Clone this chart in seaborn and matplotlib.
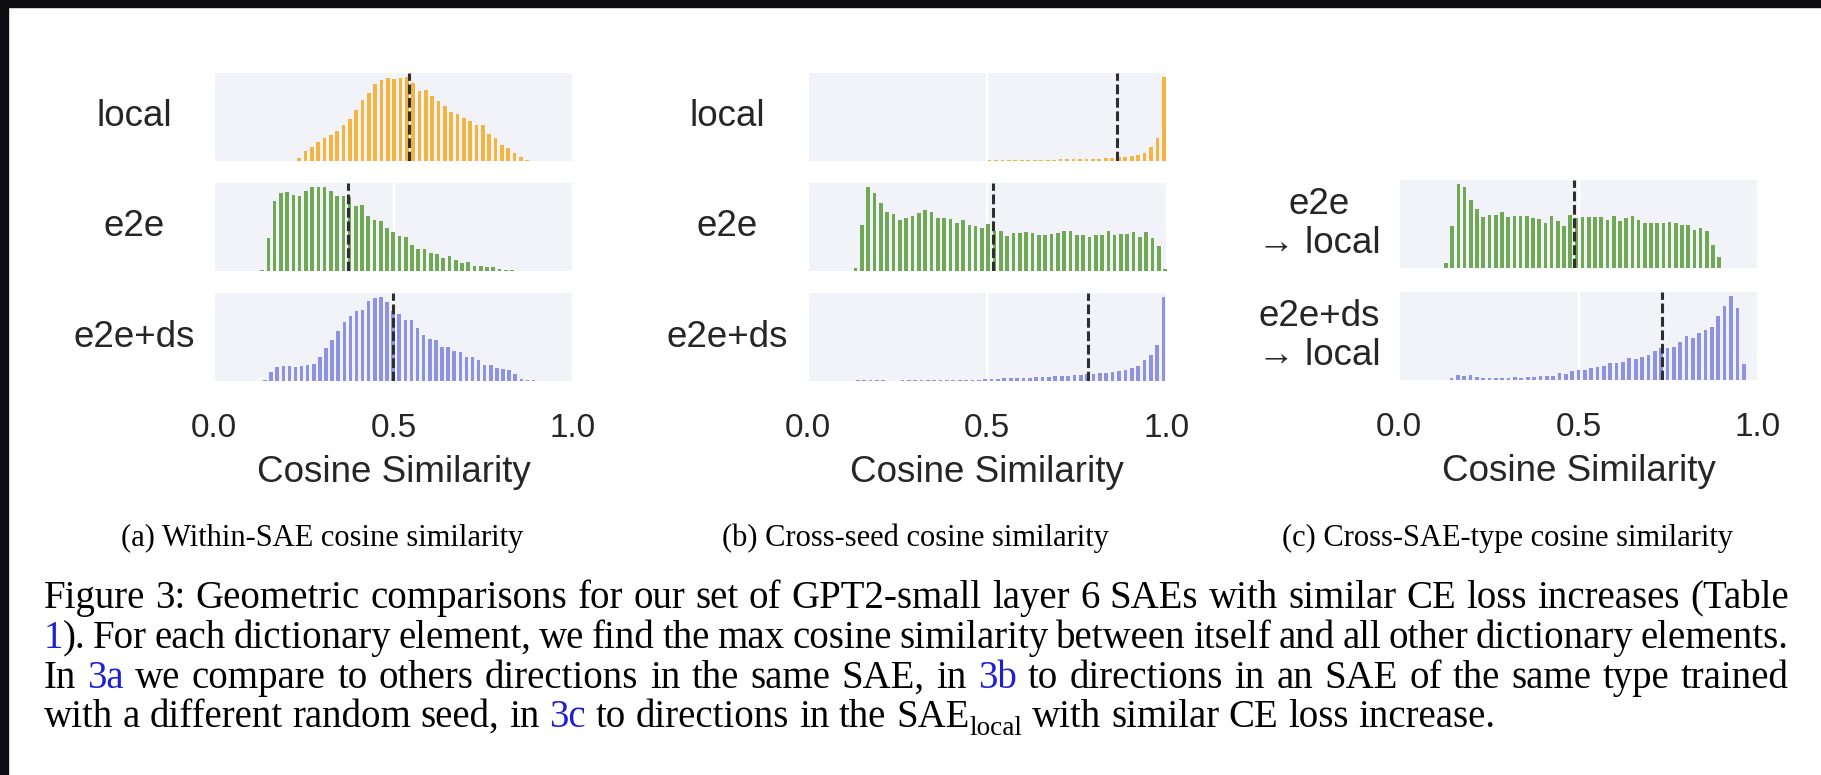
import re
import numpy as np
import pandas as pd
import matplotlib.pyplot as plt
import seaborn as sns
from matplotlib.patches import Rectangle

# ---- data ---------------------------------------------------------------
# bar heights in arbitrary units (tallest bar of each row ~250);
# each histogram has the centre of its first bin and its bin width
a_local_x0, a_local_bw = 0.237, 0.01764
a_local = [10, 30, 42, 57, 68, 78, 90, 108, 128, 154, 184, 205, 232, 245, 250, 248,
           251, 253, 235, 210, 215, 195, 180, 165, 148, 143, 130, 120, 108, 108, 82,
           68, 48, 38, 25, 12, 4]
a_e2e_x0, a_e2e_bw = 0.134, 0.0174
a_e2e = [2, 98, 208, 233, 235, 228, 223, 240, 250, 250, 250, 240, 225, 223, 221, 193,
         196, 165, 153, 148, 128, 115, 105, 101, 78, 65, 65, 55, 50, 38, 45, 33, 23,
         26, 15, 15, 13, 11, 5, 2, 2]
a_e2eds_x0, a_e2eds_bw = 0.142, 0.017
a_e2eds = [3, 28, 43, 45, 45, 43, 46, 47, 50, 72, 100, 125, 150, 178, 195, 210, 215,
           240, 250, 253, 238, 210, 201, 185, 183, 161, 138, 128, 125, 103, 103, 91,
           88, 73, 71, 62, 48, 47, 40, 36, 33, 21, 7, 4, 2]

b_local_x0, b_local_bw = 0.507, 0.018
b_local = [2, 2, 2, 2, 3, 3, 3, 3, 4, 4, 4, 5, 5, 5, 6, 6, 7, 7, 8, 9, 12, 12, 15, 18,
           25, 43, 70, 253]
b_e2e_x0, b_e2e_bw = 0.134, 0.0176
b_e2e = [10, 138, 251, 235, 205, 176, 171, 153, 160, 165, 175, 183, 176, 158, 158,
         156, 143, 153, 138, 136, 128, 141, 121, 120, 106, 113, 115, 116, 113, 108,
         108, 111, 113, 121, 121, 108, 108, 103, 108, 108, 120, 108, 110, 111, 118,
         103, 116, 100, 75, 5]
b_e2eds_x0, b_e2eds_bw = 0.14, 0.01775
b_e2eds = [2, 2, 2, 2, 2, 0, 0, 2, 2, 2, 2, 2, 2, 3, 3, 3, 3, 4, 4, 4, 5, 7, 7, 8, 8,
           9, 9, 10, 12, 12, 13, 14, 15, 16, 17, 17, 20, 22, 23, 25, 28, 30, 32, 38,
           45, 62, 78, 110, 253]

c_e2e_x0, c_e2e_bw = 0.131, 0.0173
c_e2e = [15, 130, 257, 247, 210, 180, 155, 162, 162, 173, 157, 160, 160, 158, 153,
         150, 137, 160, 145, 130, 162, 153, 155, 155, 155, 155, 148, 160, 143, 153,
         160, 148, 138, 137, 137, 137, 142, 137, 133, 133, 117, 122, 112, 70, 35]
c_e2eds_x0, c_e2eds_bw = 0.146, 0.0177
c_e2eds = [5, 16, 13, 14, 8, 5, 5, 6, 6, 6, 8, 6, 8, 10, 11, 13, 13, 23, 18, 28, 30,
           30, 36, 41, 43, 53, 53, 56, 68, 66, 71, 78, 88, 100, 98, 103, 118, 135,
           128, 145, 153, 163, 198, 228, 258, 223, 48]

# dashed lines (mean cosine similarity)
a_means = [0.543, 0.373, 0.499]
b_means = [0.862, 0.517, 0.782]
c_means = [0.487, 0.733]

row_names = ['local', 'e2e', 'e2e+ds']
c_row_names = ['e2e\n\u2192 local', 'e2e+ds\n\u2192 local']
x_ticks = [0.0, 0.5, 1.0]
x_tick_labels = ['0.0', '0.5', '1.0']
sub_captions = ['(a) Within-SAE cosine similarity',
                '(b) Cross-seed cosine similarity',
                '(c) Cross-SAE-type cosine similarity']
caption = [
    'Figure 3: Geometric comparisons for our set of GPT2-small layer 6 SAEs with similar CE loss increases (Table',
    '[1]). For each dictionary element, we find the max cosine similarity between itself and all other dictionary elements.',
    'In [3a] we compare to others directions in the same SAE, in [3b] to directions in an SAE of the same type trained',
    'with a different random seed, in [3c] to directions in the SAE_{local} with similar CE loss increase.',
]

# ---- style -------------------------------------------------------------
W, H = 1821, 775
ORANGE, GREEN, PURPLE = '#F2B540', '#70A855', '#8D92E2'
row_colors = [ORANGE, GREEN, PURPLE]
TXT = '#262626'
LINK = '#1f1fd6'
sans = ['Liberation Sans', 'DejaVu Sans']
serif = ['Liberation Serif', 'DejaVu Serif']

sns.set_theme(style='darkgrid', rc={'axes.facecolor': '#F2F3F8',
                                    'grid.color': 'white',
                                    'grid.linewidth': 1.6})
plt.rcParams['font.family'] = sans

fig = plt.figure(figsize=(W / 100, H / 100), dpi=100)
fig.patch.set_facecolor('white')


def px_axes(left, top, width, height):
    return fig.add_axes([left / W, 1 - (top + height) / H, width / W, height / H])


def draw_hist(ax, x0, bw, counts, color, mean):
    df = pd.DataFrame({'cos': x0 + bw * np.arange(len(counts)),
                       'n': np.asarray(counts, dtype=float)})
    edges = list(np.append(df['cos'] - bw / 2, df['cos'].iloc[-1] + bw / 2))
    sns.histplot(data=df, x='cos', weights='n', bins=edges, ax=ax, color=color,
                 shrink=0.58, linewidth=0, alpha=1)
    ax.axvline(mean, color='#2e2e2e', lw=2.2, ls=(0, (3.2, 1.2)), zorder=3)


panel_left = [214, 807.5, 1399]
panel_w = 359
row_tops = [73, 183, 293]
row_h = 88

panels = [
    [(a_local_x0, a_local_bw, a_local), (a_e2e_x0, a_e2e_bw, a_e2e),
     (a_e2eds_x0, a_e2eds_bw, a_e2eds)],
    [(b_local_x0, b_local_bw, b_local), (b_e2e_x0, b_e2e_bw, b_e2e),
     (b_e2eds_x0, b_e2eds_bw, b_e2eds)],
    [None, (c_e2e_x0, c_e2e_bw, c_e2e), (c_e2eds_x0, c_e2eds_bw, c_e2eds)],
]
means = [a_means, b_means, [None] + c_means]
labels = [row_names, row_names, [None] + c_row_names]
c_tops = [None, 180, 292]

for p in range(3):
    for r in range(3):
        if panels[p][r] is None:
            continue
        top = c_tops[r] if p == 2 else row_tops[r]
        ax = px_axes(panel_left[p], top, panel_w, row_h)
        x0, bw, counts = panels[p][r]
        draw_hist(ax, x0, bw, counts, row_colors[r], means[p][r])
        ax.set_xlim(0, 1)
        ax.set_xticks(x_ticks)
        ax.set_yticks([])
        ax.set_ylabel('')
        for s in ax.spines.values():
            s.set_visible(False)
        ax.tick_params(length=0, pad=23, labelsize=24, labelcolor=TXT)
        ax.text(-80 / panel_w, 0.5, labels[p][r], transform=ax.transAxes,
                ha='center', va='center', fontsize=26.5, color=TXT,
                linespacing=1.15)
        if r == 2:
            ax.set_xticklabels(x_tick_labels)
            ax.set_xlabel('Cosine Similarity', fontsize=26.5, color=TXT)
            ax.xaxis.set_label_coords(0.5, -(472 - (top + row_h)) / row_h)
            ax.xaxis.label.set_va('center')
        else:
            ax.tick_params(labelbottom=False)
            ax.set_xlabel('')

# sub-figure captions
for cx, s in zip([322, 915, 1508], sub_captions):
    fig.text(cx / W, 1 - 538 / H, s, ha='center', va='center', fontsize=22,
             family=serif, color='black')

# justified figure caption
renderer = fig.canvas.get_renderer()
cap_fs = 28
cap_px = cap_fs * 100 / 72
x_start, x_end = 43.5, 1789
baselines = [608, 648, 688, 727]


def caption_line(y_base, line, justify):
    words = []
    for word in line.split(' '):
        pieces = []
        for piece in re.split(r'(\[[^\]]*\]|_\{[^}]*\})', word):
            if not piece:
                continue
            if piece.startswith('['):
                kind, piece = 'link', piece[1:-1]
            elif piece.startswith('_{'):
                kind, piece = 'sub', piece[2:-1]
            else:
                kind = 'plain'
            t = fig.text(0, 0, piece, family=serif, ha='left', va='baseline',
                         fontsize=cap_fs * (0.7 if kind == 'sub' else 1),
                         color=LINK if kind == 'link' else 'black')
            pieces.append((t, kind, t.get_window_extent(renderer).width))
        words.append(pieces)
    widths = [sum(w for _, _, w in pcs) for pcs in words]
    gap = 0.25 * cap_px
    if justify:
        gap = (x_end - x_start - sum(widths)) / (len(words) - 1)
    x = x_start
    for pcs, wsum in zip(words, widths):
        xx = x
        for t, kind, w in pcs:
            yb = y_base + (0.2 * cap_px if kind == 'sub' else 0)
            t.set_position((xx / W, 1 - yb / H))
            xx += w
        x += wsum + gap


for i, (yb, line) in enumerate(zip(baselines, caption)):
    caption_line(yb, line, justify=i < len(caption) - 1)

# dark screenshot frame (top and left)
fig.add_artist(Rectangle((0, 1 - 7 / H), 1, 7 / H, transform=fig.transFigure,
                         color='#0e0e12', zorder=10))
fig.add_artist(Rectangle((0, 0), 8 / W, 1, transform=fig.transFigure,
                         color='#0e0e12', zorder=10))

fig.savefig('out.png', dpi=100, facecolor='white')
